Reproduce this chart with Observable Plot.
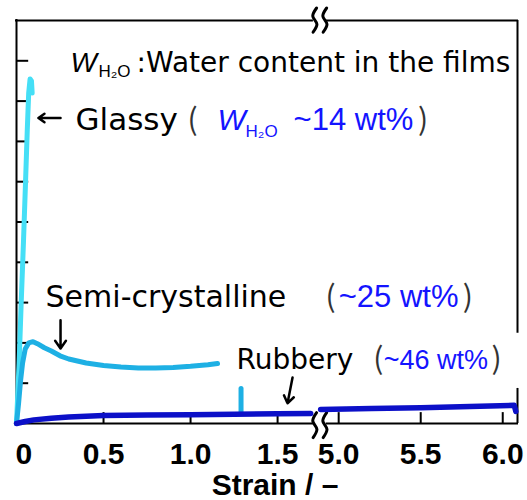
<!DOCTYPE html>
<html><head><meta charset="utf-8">
<script src="https://cdn.jsdelivr.net/npm/d3@7"></script>
<script src="https://cdn.jsdelivr.net/npm/@observablehq/plot@0.6"></script>
<style>body{margin:0;background:#fff}</style>
</head><body><div id="chart"></div>
<script>
// ---- data (strain / –, stress in arbitrary axis units) ----
const glassyStrain = [0, 0.015, 0.027, 0.04, 0.052, 0.062, 0.07, 0.078, 0.086, 0.09];
const glassyStress = [0, 1.5, 3.0, 4.5, 6.0, 7.3, 8.2, 8.55, 8.5, 8.2];

const semiStrain = [0, 0.012, 0.023, 0.035, 0.05, 0.07, 0.095, 0.12, 0.16, 0.2, 0.25, 0.3, 0.4, 0.5, 0.6, 0.7, 0.8, 0.9, 1.0, 1.1, 1.155];
const semiStress = [0, 0.5, 1.05, 1.5, 1.85, 2.0, 2.03, 1.98, 1.88, 1.8, 1.68, 1.6, 1.5, 1.44, 1.4, 1.38, 1.38, 1.39, 1.42, 1.46, 1.49];
const semiFractureStrain = [1.29, 1.29];
const semiFractureStress = [0.87, 0.27];

const rubberyLeftStrain = [0, 0.05, 0.1, 0.2, 0.3, 0.5, 0.75, 1.0, 1.25, 1.5, 1.69];
const rubberyLeftStress = [0, 0.05, 0.09, 0.13, 0.16, 0.2, 0.21, 0.22, 0.23, 0.24, 0.25];
const rubberyRightStrain = [4.89, 5.2, 5.5, 5.8, 6.07, 6.08];
const rubberyRightStress = [0.35, 0.37, 0.39, 0.42, 0.45, 0.3];

const xTickValues = [0, 0.5, 1.0, 1.5, 5.0, 5.5, 6.0];
const xTickLabels = ["0", "0.5", "1.0", "1.5", "5.0", "5.5", "6.0"];
const yTickValues = [1, 2, 3, 4, 5, 6, 7, 8, 9];
const xMax = 6.09;
const yMax = 10;

// broken x axis: strain -> display coordinate
const BREAK_AT = 1.75;
function warp(s) { return s <= BREAK_AT ? s : 1.851 + 0.9425 * (s - 5); }

const frameParts = [{a: 0, b: 1.70}, {a: 4.93, b: xMax}];
const rightFrameParts = [{a: 10, b: 2.24}, {a: 0.87, b: 0}];
const breakStrains = [1.714, 4.916];
const breakBands = [{top: 10.31, bottom: 9.71}, {top: 0.27, bottom: -0.35}];
const squiggleDx = [0.010, -0.012, 0.012, -0.010];   // wiggle of each break mark
const squiggleFrac = [0, 0.33, 0.67, 1];

// annotations
const blackLabels = [
  {s: 0.690, t: 8.72, label: ":Water content in the films", size: 28},
  {s: 0.339, t: 7.28, label: "Glassy", size: 31},
  {s: 0.167, t: 2.88, label: "Semi-crystalline", size: 30},
  {s: 1.264, t: 1.34, label: "Rubbery", size: 28}
];
const italicW = [
  {s: 0.310, t: 8.72, label: "W", size: 28, color: "black"},
  {s: 1.155, t: 7.28, label: "W", size: 30, color: "#1414ff"}
];
const subscripts = [
  {s: 0.471, t: 8.59, label: "H₂O", size: 17, color: "black"},
  {s: 1.316, t: 7.10, label: "H₂O", size: 17, color: "#1414ff"}
];
const blueLabels = [
  {s: 1.592, t: 7.28, label: "~14 wt%", size: 31},
  {s: 5.0, t: 2.88, label: "~25 wt%", size: 31},
  {s: 5.274, t: 1.34, label: "~46 wt%", size: 27}
];
const parens = [
  {s: 1.011, t: 7.28, label: "("}, {s: 5.515, t: 7.28, label: ")"},
  {s: 4.951, t: 2.88, label: "("}, {s: 5.787, t: 2.88, label: ")"},
  {s: 5.241, t: 1.34, label: "("}, {s: 5.963, t: 1.34, label: ")"}
];
const arrows = [
  {s1: 0.253, t1: 7.58, s2: 0.126, t2: 7.58},
  {s1: 0.253, t1: 2.56, s2: 0.253, t2: 1.86},
  {s1: 1.586, t1: 1.14, s2: 1.557, t2: 0.50}
];

const toPts = (xs, ys) => xs.map((s, i) => ({s, t: ys[i]}));
const glassy = toPts(glassyStrain, glassyStress);
const semi = toPts(semiStrain, semiStress);
const semiFracture = toPts(semiFractureStrain, semiFractureStress);
const rubL = toPts(rubberyLeftStrain, rubberyLeftStress);
const rubR = toPts(rubberyRightStrain, rubberyRightStress);

// break-mark squiggles (one short wavy stroke per break position and band)
const squiggles = [];
breakBands.forEach((b, bi) => breakStrains.forEach((s, si) => squiggleFrac.forEach((f, k) => {
  squiggles.push({id: bi * 10 + si, u: warp(s) + squiggleDx[k], t: b.top + (b.bottom - b.top) * f});
})));

const labelMap = new Map(xTickValues.map((v, i) => [warp(v), xTickLabels[i]]));
const X = d => warp(d.s);
const tickFont = {fontSize: 30, fontWeight: "bold", fontFamily: "Liberation Sans, Arial, sans-serif"};

const chart = Plot.plot({
  width: 527, height: 500,
  marginLeft: 16, marginRight: 10, marginTop: 20, marginBottom: 77,
  x: {domain: [0, warp(xMax)], axis: null, label: null},
  y: {domain: [0, yMax], axis: null, label: null},
  style: {background: "#fff", overflow: "visible", color: "black"},
  marks: [
    // frame
    Plot.ruleX([0], {x: 0, y1: 0, y2: yMax, strokeWidth: 2, strokeLinecap: "square"}),
    Plot.ruleX(rightFrameParts, {x: warp(xMax), y1: "a", y2: "b", strokeWidth: 2}),
    Plot.ruleY(frameParts, {y: 0, x1: d => warp(d.a), x2: d => warp(d.b), strokeWidth: 2, strokeLinecap: "square"}),
    Plot.ruleY(frameParts, {y: yMax, x1: d => warp(d.a), x2: d => warp(d.b), strokeWidth: 2, strokeLinecap: "square"}),
    // inward ticks
    Plot.ruleY(yTickValues, {y: d => d, x1: 0, x2: 0.07, strokeWidth: 2}),
    Plot.ruleX(xTickValues.filter(v => v > 0), {x: v => warp(v), y1: 0, y2: 0.27, strokeWidth: 2}),
    // break marks
    Plot.line(squiggles, {x: "u", y: "t", z: "id", curve: "catmull-rom", stroke: "black", strokeWidth: 3, strokeLinecap: "round"}),
    // curves
    Plot.line(glassy, {x: X, y: "t", stroke: "#45dff6", strokeWidth: 5, strokeLinejoin: "round"}),
    Plot.line(semi, {x: X, y: "t", stroke: "#1eb0e4", strokeWidth: 5, strokeLinejoin: "round"}),
    Plot.line(semiFracture, {x: X, y: "t", stroke: "#1eb0e4", strokeWidth: 5}),
    Plot.line(rubL, {x: X, y: "t", stroke: "#0c10c8", strokeWidth: 5.5, strokeLinejoin: "round"}),
    Plot.line(rubR, {x: X, y: "t", stroke: "#0c10c8", strokeWidth: 5.5, strokeLinejoin: "round"}),
    // axes labels
    Plot.axisX(xTickValues.filter(v => v > 0).map(warp), {tickSize: 0, tickPadding: 19, label: null, tickFormat: u => labelMap.get(u), ...tickFont}),
    Plot.axisX([warp(0)], {tickSize: 0, tickPadding: 19, label: null, textAnchor: "start", dx: -1, tickFormat: () => xTickLabels[0], ...tickFont}),
    Plot.text(["Strain / –"], {frameAnchor: "bottom", dy: 71, dx: 8, lineAnchor: "bottom", ...tickFont}),
    // annotations
    Plot.arrow(arrows, {x1: d => warp(d.s1), y1: "t1", x2: d => warp(d.s2), y2: "t2", strokeWidth: 2.5, headLength: 8, headAngle: 70}),
    Plot.text(blackLabels, {x: X, y: "t", text: "label", fontSize: "size", textAnchor: "start", lineAnchor: "bottom", fill: "black", fontFamily: "DejaVu Sans"}),
    Plot.text(italicW, {x: X, y: "t", text: "label", fontSize: "size", textAnchor: "start", lineAnchor: "bottom", fill: d => d.color, fontStyle: "italic", fontFamily: "Liberation Sans"}),
    Plot.text(subscripts, {x: X, y: "t", text: "label", fontSize: "size", textAnchor: "start", lineAnchor: "bottom", fill: d => d.color, fontFamily: "Liberation Sans"}),
    Plot.text(blueLabels, {x: X, y: "t", text: "label", fontSize: "size", textAnchor: "start", lineAnchor: "bottom", fill: "#1414ff", fontFamily: "Liberation Sans"}),
    Plot.text(parens, {x: X, y: "t", text: "label", fontSize: 30, textAnchor: "middle", lineAnchor: "bottom", fill: "#333", fontFamily: "Noto Sans CJK JP"})
  ],
  color: {type: "identity"}
});
document.getElementById("chart").appendChild(chart);
</script>
</body></html>
